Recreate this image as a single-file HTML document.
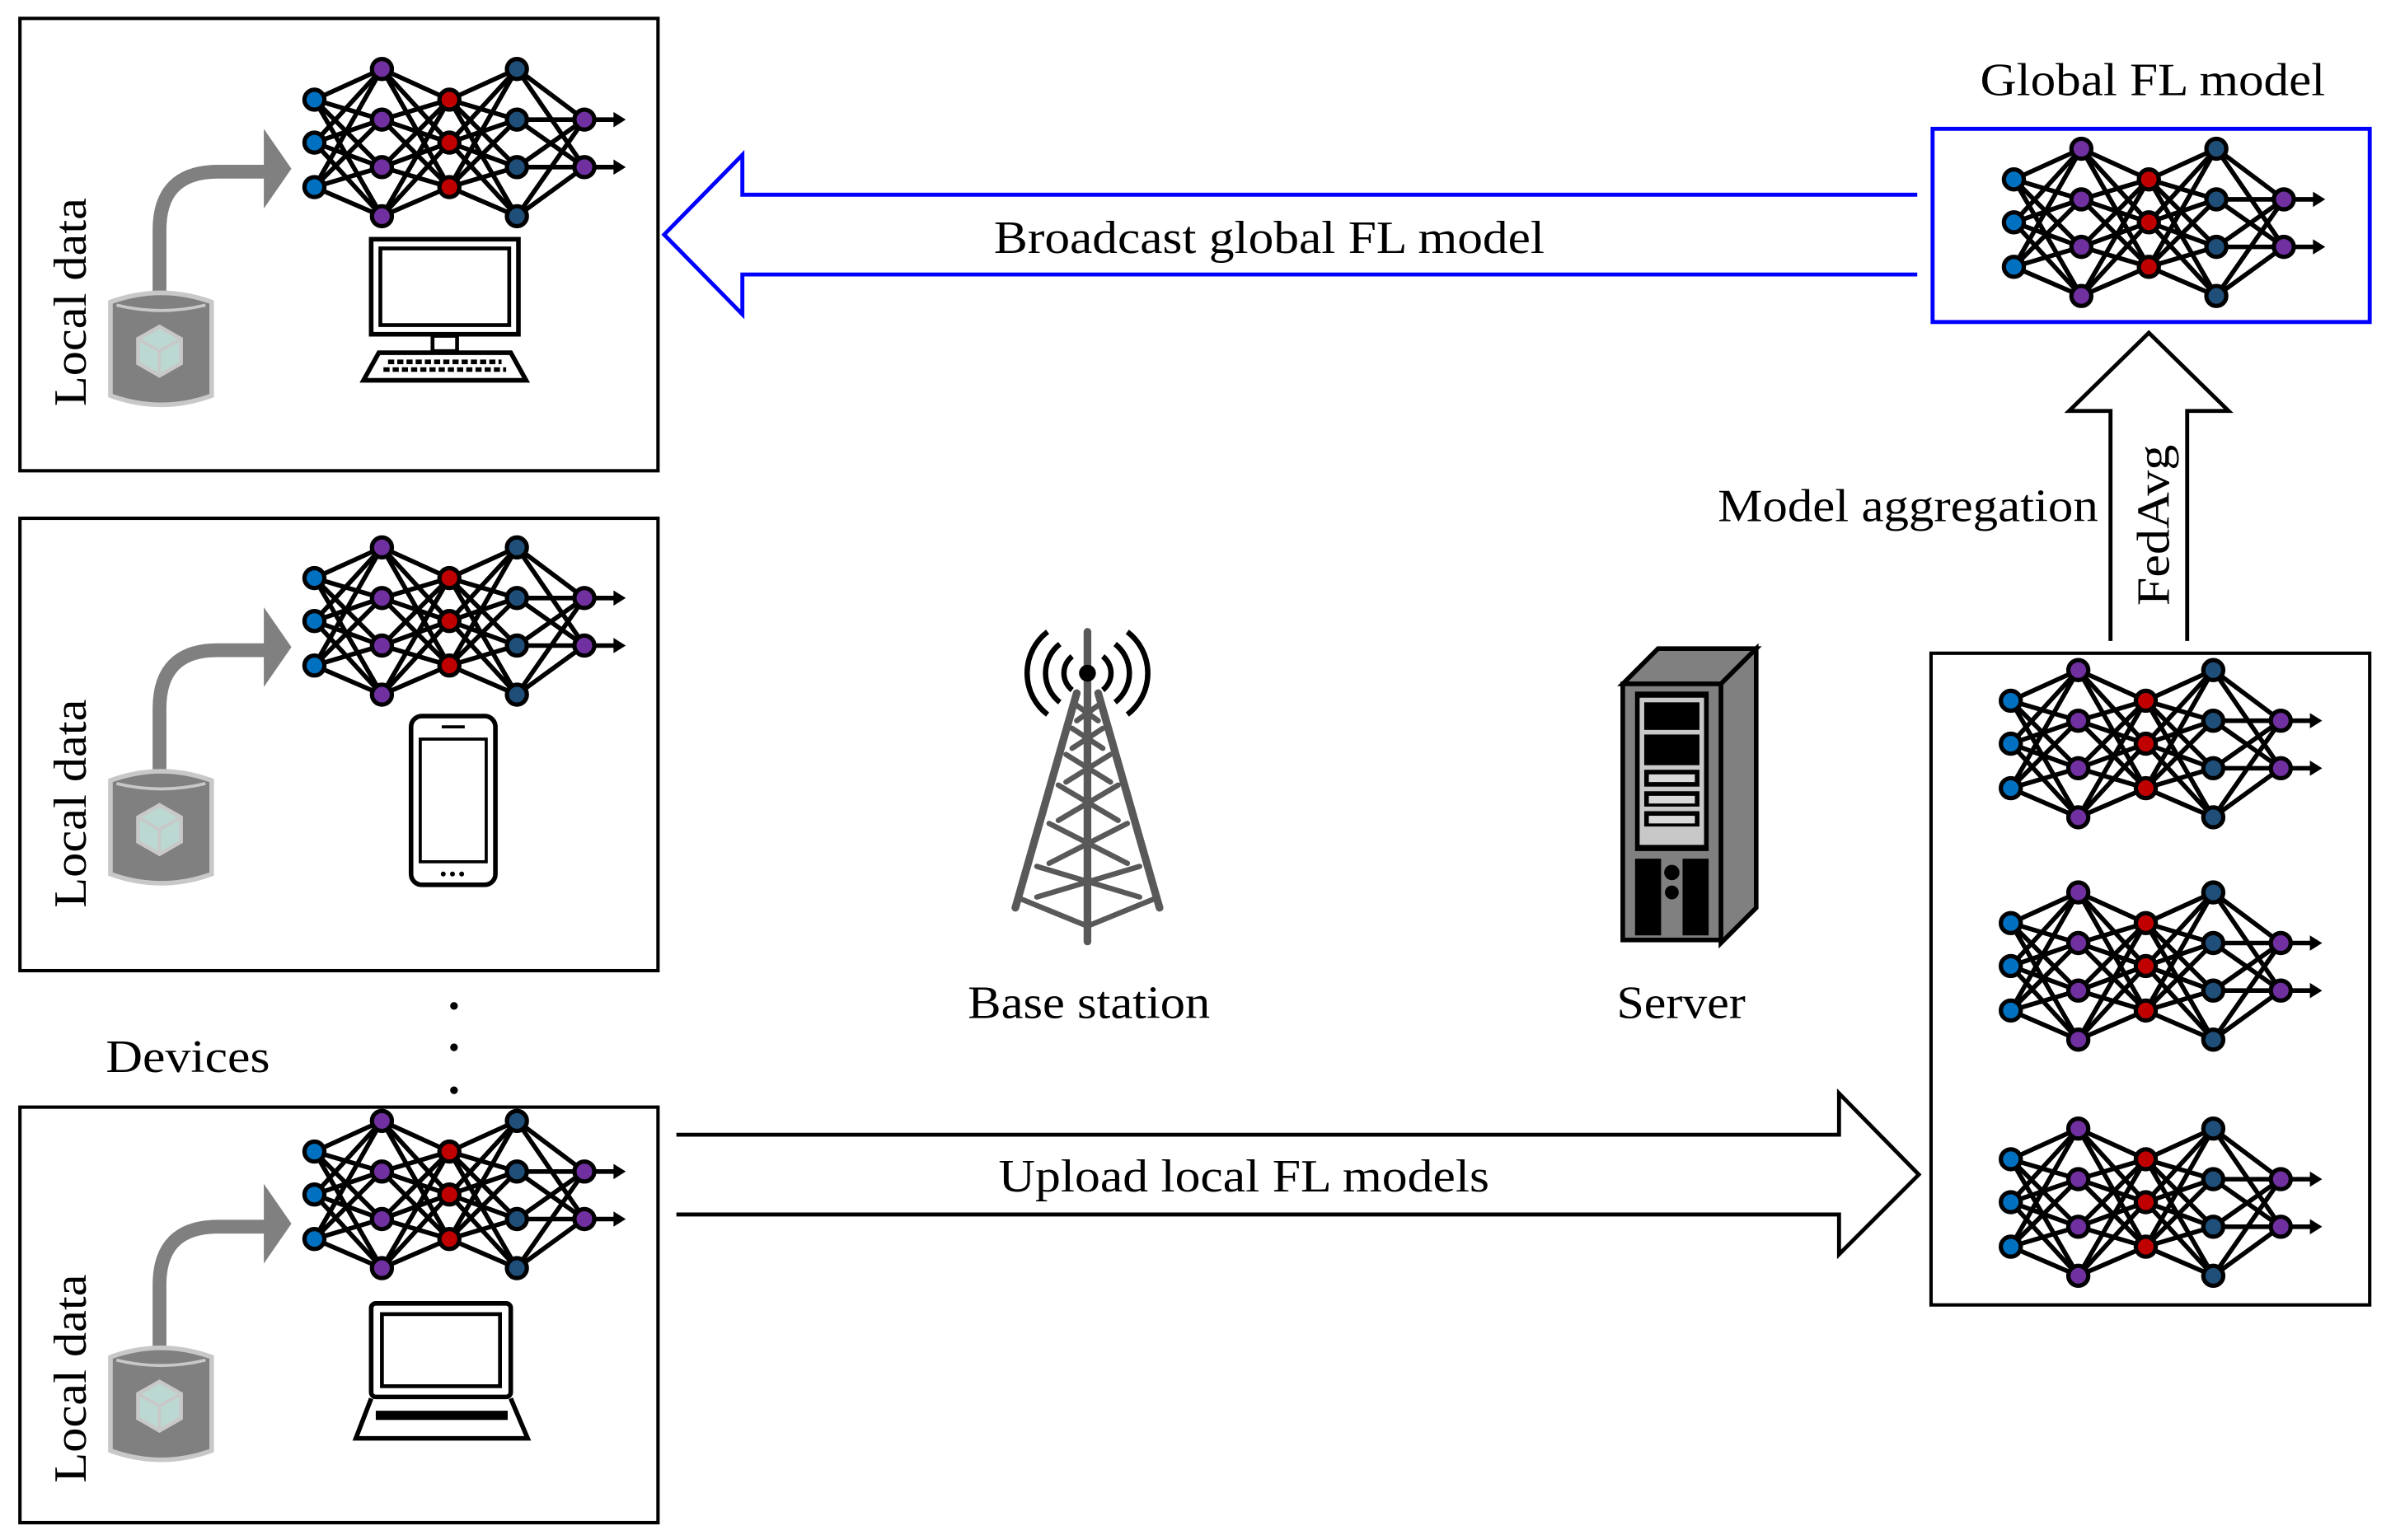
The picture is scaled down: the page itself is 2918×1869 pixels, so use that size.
<!DOCTYPE html>
<html><head><meta charset="utf-8"><style>
html,body{margin:0;padding:0;background:#fff;}
svg{display:block;}
text{font-family:"Liberation Serif",serif;fill:#000;}
</style></head><body>
<svg width="2918" height="1869" viewBox="0 0 1568 1004.3" preserveAspectRatio="none" xmlns="http://www.w3.org/2000/svg">
<defs>
<g id="net">
 <g stroke="#000" stroke-width="3" fill="none">
  <path d="M0 20L44 0M0 20L44 33M0 20L44 64M0 20L44 96M0 48L44 0M0 48L44 33M0 48L44 64M0 48L44 96M0 77L44 0M0 77L44 33M0 77L44 64M0 77L44 96"/>
  <path d="M44 0L88 20M44 0L88 48M44 0L88 77M44 33L88 20M44 33L88 48M44 33L88 77M44 64L88 20M44 64L88 48M44 64L88 77M44 96L88 20M44 96L88 48M44 96L88 77"/>
  <path d="M88 20L132 0M88 20L132 33M88 20L132 64M88 20L132 96M88 48L132 0M88 48L132 33M88 48L132 64M88 48L132 96M88 77L132 0M88 77L132 33M88 77L132 64M88 77L132 96"/>
  <path d="M132 0L176 33M132 0L176 64M132 33L176 33M132 33L176 64M132 64L176 33M132 64L176 64M132 96L176 33M132 96L176 64"/>
  <path d="M176 33L196 33M176 64L196 64"/>
 </g>
 <path d="M195 28L203 33L195 38ZM195 59L203 64L195 69Z" fill="#000"/>
 <g stroke="#000" stroke-width="2.8">
  <circle cx="0" cy="20" r="6.5" fill="#0070c0"/><circle cx="0" cy="48" r="6.5" fill="#0070c0"/><circle cx="0" cy="77" r="6.5" fill="#0070c0"/>
  <circle cx="44" cy="0" r="6.5" fill="#7030a0"/><circle cx="44" cy="33" r="6.5" fill="#7030a0"/><circle cx="44" cy="64" r="6.5" fill="#7030a0"/><circle cx="44" cy="96" r="6.5" fill="#7030a0"/>
  <circle cx="88" cy="20" r="6.5" fill="#c00000"/><circle cx="88" cy="48" r="6.5" fill="#c00000"/><circle cx="88" cy="77" r="6.5" fill="#c00000"/>
  <circle cx="132" cy="0" r="6.5" fill="#1f4e79"/><circle cx="132" cy="33" r="6.5" fill="#1f4e79"/><circle cx="132" cy="64" r="6.5" fill="#1f4e79"/><circle cx="132" cy="96" r="6.5" fill="#1f4e79"/>
  <circle cx="176" cy="33" r="6.5" fill="#7030a0"/><circle cx="176" cy="64" r="6.5" fill="#7030a0"/>
 </g>
</g>
<g id="data">
 <path d="M104 195 V150 Q104 112 142 112 H175" stroke="#808080" stroke-width="9" fill="none"/>
 <path d="M172 84 L190 110 L172 136 Z" fill="#808080"/>
 <path d="M72 197 Q105 185 138 197 V258 Q105 270 72 258 Z" fill="#808080" stroke="#c8c8c8" stroke-width="3"/>
 <path d="M76 199 Q105 206 134 199" stroke="#c8c8c8" stroke-width="2" fill="none"/>
 <polygon points="104,213 118,221 118,237 104,245 90,237 90,221" fill="#bcd8d3" stroke="#c8c8c8" stroke-width="2.5"/>
 <path d="M90 221 L104 229 L118 221 M104 229 V245" stroke="#c8c8c8" stroke-width="2" fill="none"/>
</g>
</defs>

<g fill="none" stroke="#000" stroke-width="2.2">
 <rect x="13" y="12" width="416" height="295"/>
 <rect x="13" y="338" width="416" height="295"/>
 <rect x="13" y="722" width="416" height="271"/>
 <rect x="1259" y="426" width="286" height="425"/>
</g>
<rect x="1260" y="84" width="285" height="126" fill="none" stroke="#0000ff" stroke-width="2.6"/>

<use href="#net" transform="translate(205,45)"/>
<use href="#net" transform="translate(205,357)"/>
<use href="#net" transform="translate(205,731)"/>
<use href="#net" transform="translate(1313,97)"/>
<use href="#net" transform="translate(1311,437)"/>
<use href="#net" transform="translate(1311,582)"/>
<use href="#net" transform="translate(1311,736)"/>

<use href="#data" transform="translate(0,0)"/>
<use href="#data" transform="translate(0,312)"/>
<use href="#data" transform="translate(0,688)"/>
<text transform="translate(56,265) rotate(-90)" font-size="30" textLength="136" lengthAdjust="spacingAndGlyphs">Local data</text>
<text transform="translate(56,592) rotate(-90)" font-size="30" textLength="136" lengthAdjust="spacingAndGlyphs">Local data</text>
<text transform="translate(56,967) rotate(-90)" font-size="30" textLength="136" lengthAdjust="spacingAndGlyphs">Local data</text>

<rect x="242" y="156" width="96" height="62" fill="none" stroke="#000" stroke-width="3"/>
<rect x="248" y="162" width="84" height="50" fill="none" stroke="#000" stroke-width="2.5"/>
<rect x="282" y="219" width="16" height="10" fill="none" stroke="#000" stroke-width="2.5"/>
<path d="M247 230 H333 L343 248 H237 Z" fill="none" stroke="#000" stroke-width="3"/>
<g stroke="#000" stroke-width="3" stroke-dasharray="4,2"><path d="M253 236 H327"/><path d="M250 241 H330"/></g>
<rect x="268" y="467" width="55" height="110" rx="7" fill="none" stroke="#000" stroke-width="3"/>
<rect x="274" y="482" width="43" height="80" fill="none" stroke="#000" stroke-width="2"/>
<path d="M288 474 H303" stroke="#000" stroke-width="2"/>
<circle cx="289" cy="570" r="1.6"/><circle cx="295" cy="570" r="1.6"/><circle cx="301" cy="570" r="1.6"/>
<rect x="242" y="850" width="91" height="61" rx="3" fill="none" stroke="#000" stroke-width="3"/>
<rect x="249" y="857" width="77" height="47" fill="none" stroke="#000" stroke-width="2.5"/>
<path d="M242 912 L232 938 H344 L333 912" fill="none" stroke="#000" stroke-width="3"/>
<rect x="245" y="920" width="86" height="6" fill="#000"/>

<circle cx="296" cy="656" r="2.5"/><circle cx="296" cy="683" r="2.5"/><circle cx="296" cy="711" r="2.5"/>
<text x="69" y="699" font-size="30" textLength="107" lengthAdjust="spacingAndGlyphs">Devices</text>

<path d="M1250 127 H484 V101 L433 153 L484 205 V179 H1250" fill="none" stroke="#0000ff" stroke-width="2.6"/>
<text x="648" y="165" font-size="30" textLength="359" lengthAdjust="spacingAndGlyphs">Broadcast global FL model</text>
<path d="M441 740 H1199 V713 L1251 766 L1199 818 V792 H441" fill="none" stroke="#000" stroke-width="2.6"/>
<text x="651" y="777" font-size="30" textLength="320" lengthAdjust="spacingAndGlyphs">Upload local FL models</text>
<path d="M1376 418 V268 H1349 L1401 217 L1453 268 H1426 V418" fill="none" stroke="#000" stroke-width="2.6"/>
<text transform="translate(1414,395) rotate(-90)" font-size="30" textLength="105" lengthAdjust="spacingAndGlyphs">FedAvg</text>
<text x="1120" y="340" font-size="30" textLength="248" lengthAdjust="spacingAndGlyphs">Model aggregation</text>
<text x="1291" y="62" font-size="30" textLength="225" lengthAdjust="spacingAndGlyphs">Global FL model</text>

<g stroke="#595959" stroke-linecap="round" fill="none">
 <path d="M709 412 V614" stroke-width="5"/>
 <path d="M702 452 L662 592 M716 452 L756 592" stroke-width="5"/>
 <path d="M702 460 L716 470 M716 460 L702 470 M699 475 L719 488 M719 475 L699 488 M695 492 L724 510 M724 492 L695 510 M690 512 L729 535 M729 512 L690 535 M684 537 L735 563 M735 537 L684 563 M676 565 L743 585 M743 565 L676 585 M665 586 L709 604 L753 586" stroke-width="3.5"/>
</g>
<circle cx="709" cy="439" r="5.5" fill="#000"/>
<g stroke="#000" stroke-width="3.5" fill="none">
 <path d="M699 428 A14 14 0 0 0 699 450 M719 428 A14 14 0 0 1 719 450"/>
 <path d="M691 420 A24 24 0 0 0 691 458 M727 420 A24 24 0 0 1 727 458"/>
 <path d="M683 412 A34 34 0 0 0 683 466 M735 412 A34 34 0 0 1 735 466"/>
</g>
<text x="631" y="664" font-size="30" textLength="158" lengthAdjust="spacingAndGlyphs">Base station</text>

<path d="M1058 446 L1081 423 H1145 L1122 446 Z" fill="#808080" stroke="#000" stroke-width="3"/>
<path d="M1122 446 L1145 423 V592 L1122 615 Z" fill="#808080" stroke="#000" stroke-width="3"/>
<rect x="1058" y="446" width="64" height="167" fill="#808080" stroke="#000" stroke-width="3"/>
<rect x="1066" y="451" width="48" height="104" fill="#000"/>
<rect x="1069" y="455" width="42" height="96" fill="#c8c8c8"/>
<rect x="1072" y="458" width="36" height="18" fill="#000"/>
<rect x="1072" y="479" width="36" height="20" fill="#000"/>
<rect x="1072" y="502" width="36" height="11" fill="#000"/>
<rect x="1072" y="516" width="36" height="10" fill="#000"/>
<rect x="1072" y="529" width="36" height="10" fill="#000"/>
<rect x="1075" y="505" width="30" height="5" fill="#d9d9d9"/>
<rect x="1075" y="519" width="30" height="5" fill="#d9d9d9"/>
<rect x="1075" y="532" width="30" height="5" fill="#d9d9d9"/>
<rect x="1066" y="560" width="17" height="50" fill="#000"/>
<rect x="1097" y="560" width="17" height="50" fill="#000"/>
<circle cx="1090" cy="569" r="5" fill="#000"/><circle cx="1090" cy="582" r="4.5" fill="#000"/>
<text x="1054" y="664" font-size="30" textLength="84" lengthAdjust="spacingAndGlyphs">Server</text>
</svg>
</body></html>
